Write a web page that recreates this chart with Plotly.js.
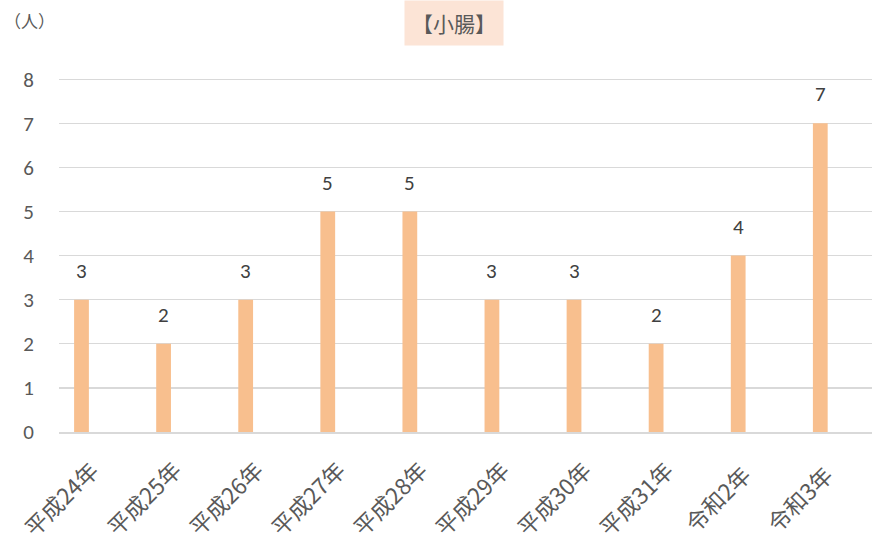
<!DOCTYPE html>
<html><head><meta charset="utf-8">
<script src="https://cdn.plot.ly/plotly-3.0.1.min.js"></script>
<style>html,body{margin:0;padding:0;background:#fff}#c{width:878px;height:556px}</style>
</head><body><div id="c"></div>
<script>
const categories = ["平成24年","平成25年","平成26年","平成27年","平成28年","平成29年","平成30年","平成31年","令和2年","令和3年"];
const values = [3,2,3,5,5,3,3,2,4,7];
const yTicks = [0,1,2,3,4,5,6,7,8];
const chartTitle = "【小腸】";
const unitLabel = "（人）";

const font = "Calibri, Carlito, 'Noto Sans CJK JP', 'Noto Sans', sans-serif";
const textColor = "#595959";

const idx = categories.map((_, i) => i);
const trace = {
  type: "bar",
  x: idx,
  y: values,
  width: 0.18,
  marker: {color: "#F8BF8E", line: {width: 0}},
  hoverinfo: "skip"
};

const annotations = values.map((v, i) => ({
  x: i, y: v, xref: "x", yref: "y",
  text: String(v), showarrow: false,
  yanchor: "bottom", yshift: 14,
  font: {family: font, size: 21, color: "#404040"}
}));
categories.forEach((c, i) => annotations.push({
  x: i, y: 0, xref: "x", yref: "y",
  text: c, showarrow: false, textangle: -45,
  xanchor: "center", yanchor: "middle",
  xshift: -21, yshift: -66,
  font: {family: "'Noto Sans CJK JP', sans-serif", size: 22.5, color: textColor}
}));
annotations.push({
  xref: "paper", yref: "paper", x: 0.486, y: 1.0, yshift: 54,
  text: chartTitle, showarrow: false, xanchor: "center", yanchor: "middle",
  bgcolor: "#FCE4D6", borderpad: 7,
  font: {family: "'Noto Sans CJK JP', sans-serif", size: 21, color: textColor}
});
annotations.push({
  xref: "paper", yref: "paper", x: -0.07, y: 1.0, yshift: 57,
  text: unitLabel, showarrow: false, xanchor: "left", yanchor: "middle",
  font: {family: "'Noto Sans CJK JP', sans-serif", size: 17, color: textColor}
});

const layout = {
  width: 878, height: 556,
  margin: {l: 59, r: 6, t: 77, b: 124, pad: 0},
  paper_bgcolor: "#fff", plot_bgcolor: "#fff",
  showlegend: false,
  xaxis: {
    range: [-0.274, 9.63],
    tickvals: idx,
    showticklabels: false,
    showgrid: false, zeroline: false,
    showline: true, linecolor: "#D9D9D9", linewidth: 1.5,
    ticks: "",
    fixedrange: true
  },
  yaxis: {
    range: [0, 8.05],
    tickvals: yTicks,
    showgrid: true, gridcolor: "#D9D9D9", gridwidth: 1.3,
    zeroline: false, showline: false,
    ticks: "", ticklabelstandoff: 24,
    tickfont: {family: font, size: 21, color: textColor},
    fixedrange: true
  },
  annotations: annotations
};

Plotly.newPlot("c", [trace], layout, {displayModeBar: false, staticPlot: true});
</script>
</body></html>
